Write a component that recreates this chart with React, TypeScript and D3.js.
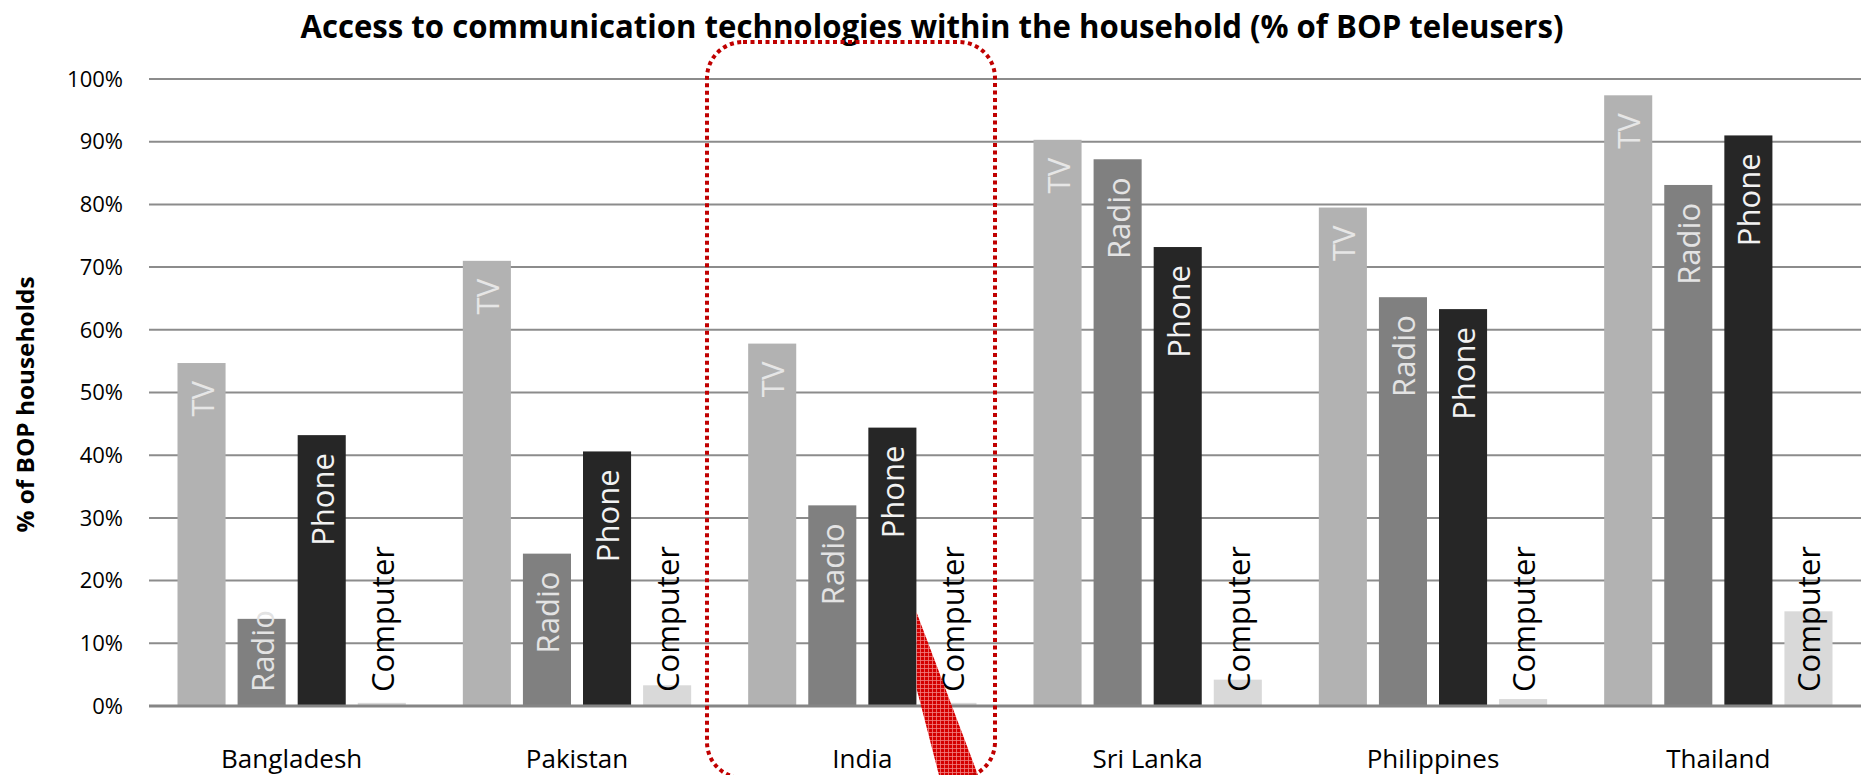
import { useMemo } from "react";
import * as d3 from "d3";

const WIDTH = 1864;
const HEIGHT = 775;

const countries = ["Bangladesh", "Pakistan", "India", "Sri Lanka", "Philippines", "Thailand"];
const series = ["TV", "Radio", "Phone", "Computer"];

const tvValues = [54.7, 71.0, 57.8, 90.3, 79.5, 97.4];
const radioValues = [13.9, 24.3, 32.0, 87.2, 65.2, 83.1];
const phoneValues = [43.2, 40.6, 44.4, 73.2, 63.3, 91.0];
const computerValues = [0.5, 3.3, 0.5, 4.2, 1.1, 15.1];

const yTicks = [0, 10, 20, 30, 40, 50, 60, 70, 80, 90, 100];

const barColors = ["#b2b2b2", "#808080", "#262626", "#d9d9d9"];
const labelColors = ["#e6e6e6", "#e3e3e3", "#f2f2f2", "#000000"];

const MARGIN = { top: 79, right: 3, bottom: 69, left: 149 };
const FONT = "'Open Sans', 'DejaVu Sans', sans-serif";
const LABEL_SIZE = 31;

function measure(text: string, size: number) {
  const canvas = document.createElement("canvas");
  const ctx = canvas.getContext("2d");
  if (!ctx) return text.length * size * 0.55;
  ctx.font = `${size}px 'Open Sans'`;
  return ctx.measureText(text).width;
}

export default function App() {
  const boundsWidth = WIDTH - MARGIN.left - MARGIN.right;
  const boundsHeight = HEIGHT - MARGIN.top - MARGIN.bottom;

  const xScale = useMemo(
    () => d3.scaleBand().domain(countries).range([0, boundsWidth]).padding(0),
    [boundsWidth]
  );
  const outer = 28.5;
  const xInner = useMemo(
    () =>
      d3
        .scaleBand()
        .domain(series)
        .range([outer, xScale.bandwidth() - outer])
        .paddingInner(0.2)
        .paddingOuter(0),
    [xScale]
  );
  const yScale = useMemo(
    () => d3.scaleLinear().domain([0, 100]).range([boundsHeight, 0]),
    [boundsHeight]
  );

  const table = countries.map((c, i) => ({
    country: c,
    values: [tvValues[i], radioValues[i], phoneValues[i], computerValues[i]],
  }));

  const labelWidths = series.map((s) => measure(s, LABEL_SIZE));

  // arrow points at the right edge of India's phone bar
  const tipX = MARGIN.left + (xScale("India") ?? 0) + (xInner("Phone") ?? 0) + xInner.bandwidth();
  const tipY = MARGIN.top + yScale(15);
  const arrow = [
    [tipX, tipY],
    [tipX + 71, 800],
    [tipX + 29, 800],
    [tipX, tipY + 76],
  ];

  return (
    <svg
      width={WIDTH}
      height={HEIGHT}
      style={{ position: "absolute", left: 0, top: 0, background: "#fff" }}
      fontFamily={FONT}
    >
      <defs>
        <pattern id="hatch" width="4" height="4" patternUnits="userSpaceOnUse">
          <rect width="4" height="4" fill="#d40000" />
          <path d="M0 0.5H4M0.5 0V4" stroke="#f08080" strokeWidth="0.8" />
        </pattern>
      </defs>

      <text
        x={WIDTH / 2}
        y={38}
        textAnchor="middle"
        fontSize={32}
        fontWeight="bold"
        textLength={1263}
        lengthAdjust="spacingAndGlyphs"
      >
        Access to communication technologies within the household (% of BOP teleusers)
      </text>

      <text
        transform={`translate(25, ${MARGIN.top + boundsHeight / 2 + 12}) rotate(-90)`}
        textAnchor="middle"
        dominantBaseline="central"
        fontSize={23}
        fontWeight="bold"
        textLength={256}
        lengthAdjust="spacingAndGlyphs"
      >
        % of BOP households
      </text>

      <g transform={`translate(${MARGIN.left},${MARGIN.top})`}>
        {yTicks.map((t) => (
          <g key={t}>
            {t > 0 && (
              <line x1={0} x2={boundsWidth} y1={yScale(t)} y2={yScale(t)} stroke="#8c8c8c" strokeWidth={2} />
            )}
            <text x={-26} y={yScale(t)} dy="0.35em" textAnchor="end" fontSize={22} fill="#000">
              {t}%
            </text>
          </g>
        ))}

        {table.map((d) => (
          <g key={d.country} transform={`translate(${xScale(d.country)},0)`}>
            {d.values.map((v, j) => (
              <rect
                key={j}
                x={xInner(series[j])}
                width={xInner.bandwidth()}
                y={yScale(v)}
                height={boundsHeight - yScale(v)}
                fill={barColors[j]}
              />
            ))}
          </g>
        ))}

        <line x1={0} x2={boundsWidth} y1={boundsHeight} y2={boundsHeight} stroke="#858585" strokeWidth={3} />

        {table.map((d) => (
          <g key={d.country + "-labels"} transform={`translate(${xScale(d.country)},0)`}>
            {d.values.map((v, j) => {
              const cx = (xInner(series[j]) ?? 0) + xInner.bandwidth() / 2;
              const endY = yScale(v) + 18;
              const startY = endY + labelWidths[j];
              const y = Math.min(startY, boundsHeight - 14);
              return (
                <text
                  key={j}
                  transform={`translate(${cx},${y}) rotate(-90)`}
                  dominantBaseline="central"
                  textAnchor="start"
                  fontSize={LABEL_SIZE}
                  fill={labelColors[j]}
                >
                  {series[j]}
                </text>
              );
            })}
            <text
              x={xScale.bandwidth() / 2}
              y={boundsHeight + 62}
              textAnchor="middle"
              fontSize={26}
              fill="#000"
            >
              {d.country}
            </text>
          </g>
        ))}
      </g>

      <polygon points={arrow.map((p) => p.join(",")).join(" ")} fill="url(#hatch)" />

      <rect
        x={707}
        y={42}
        width={288}
        height={736}
        rx={36}
        fill="none"
        stroke="#c00000"
        strokeWidth={4}
        strokeDasharray="4 3.5"
      />
    </svg>
  );
}
